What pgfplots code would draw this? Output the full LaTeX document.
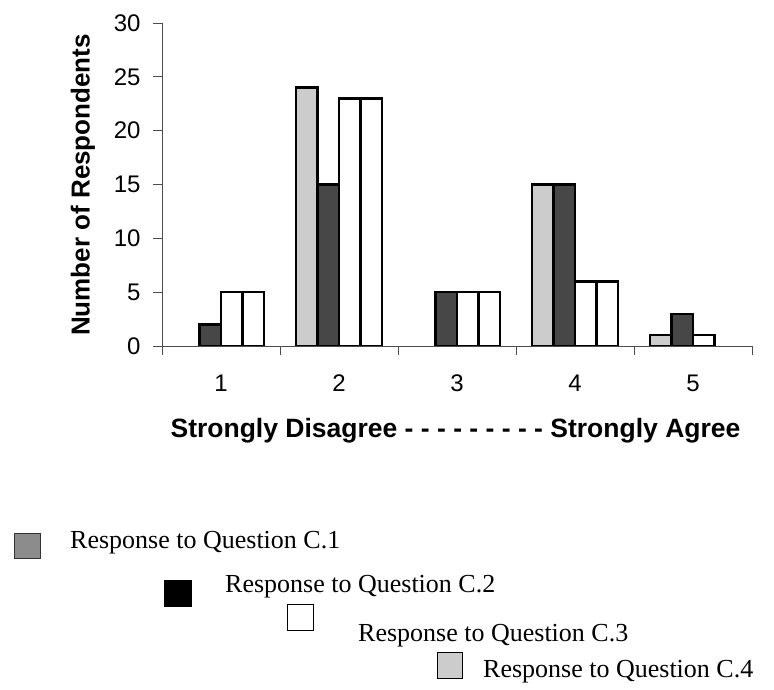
\documentclass[border=0pt]{standalone}
\usepackage{pgfplots}
\pgfplotsset{compat=1.18}
\usepackage{pgfplotstable}
\usepackage{fontspec}
\setmainfont{Liberation Serif}
\newfontfamily\arial{Liberation Sans}

% Number of respondents per answer (1 = strongly disagree ... 5 = strongly agree)
\pgfplotstableread{
ans qa qb qc qd
1   0  2  5  5
2   24 15 23 23
3   0  5  5  5
4   15 15 6  6
5   1  3  1  0
}\responses

\definecolor{barlight}{gray}{0.80}
\definecolor{bardark}{gray}{0.28}
\definecolor{keymid}{gray}{0.55}
\definecolor{keylight}{gray}{0.80}

\begin{document}
\begin{tikzpicture}[x=1pt,y=1pt]
\useasboundingbox (0,0) rectangle (774,690);
\begin{axis}[
  at={(162pt,344pt)}, anchor=south west,
  scale only axis, width=590pt, height=323pt,
  xmin=0.5, xmax=5.5, ymin=0, ymax=30,
  axis lines*=left,
  axis line style={line width=0.9pt, draw=black!70},
  ybar=0pt, bar width=0.182,
  restrict y to domain=0.5:40,
  xtick={1,...,5},
  major x tick style={draw=none},
  minor xtick={0.5,1.5,...,5.5},
  ytick={0,5,...,30},
  tick align=outside,
  major tick length=9pt,
  minor tick length=9pt,
  tick style={black!70, line width=0.8pt},
  /pgf/number format/assume math mode=true,
  ticklabel style={font=\arial\fontsize{24}{24}\selectfont},
  x tick label style={yshift=-16pt},
  y tick label style={xshift=-9pt},
  every axis plot/.append style={draw=black, line width=2.3pt},
]
\addplot[fill=barlight] table[x=ans, y=qa] {\responses};
\addplot[fill=bardark]  table[x=ans, y=qb] {\responses};
\addplot[fill=white]    table[x=ans, y=qc] {\responses};
\addplot[fill=white]    table[x=ans, y=qd] {\responses};
\end{axis}

% axis titles
\node[rotate=90, font=\arial\bfseries\fontsize{26}{26}\selectfont] at (83,505) {Number of Respondents};
\node[anchor=base, font=\arial\bfseries\fontsize{26.5}{26.5}\selectfont] at (455.5,252)
  {Strongly Disagree - - - - - - - - - Strongly Agree};

% key
\begin{scope}[every node/.style={anchor=base west, font=\fontsize{26}{26}\selectfont, inner sep=0pt}]
\filldraw[fill=keymid, draw=black!80, line width=0.8pt] (14,132) rectangle (40,157);
\node at (70,141) {Response to Question C.1};
\filldraw[fill=black, draw=black, line width=0.8pt] (164,84) rectangle (191,110);
\node at (225,97) {Response to Question C.2};
\filldraw[fill=white, draw=black, line width=0.8pt] (287,60) rectangle (313,86);
\node at (358,48) {Response to Question C.3};
\filldraw[fill=keylight, draw=black, line width=0.8pt] (437,12) rectangle (462,38);
\node at (483,12) {Response to Question C.4};
\end{scope}
\end{tikzpicture}
\end{document}
